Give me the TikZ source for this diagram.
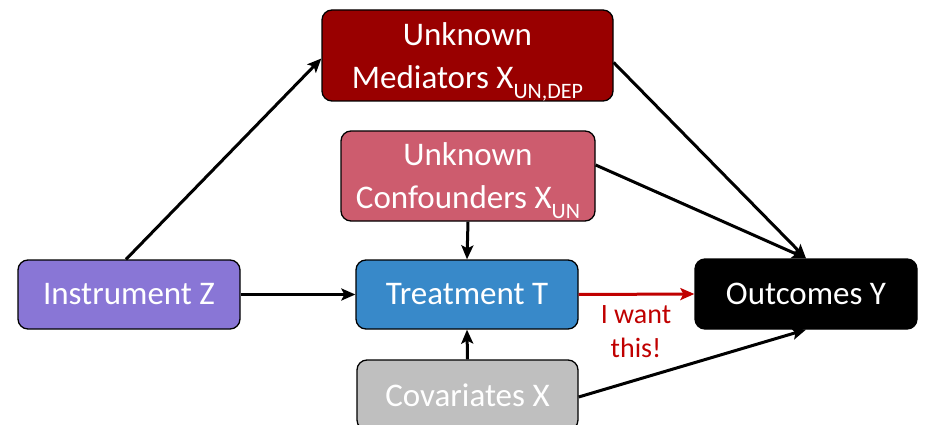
\documentclass[tikz,border=0pt]{standalone}
\usepackage{fontspec}
\setmainfont{Carlito}
\usetikzlibrary{arrows.meta}
\definecolor{medc}{RGB}{153,0,0}
\definecolor{confc}{RGB}{205,92,110}
\definecolor{instc}{RGB}{137,118,214}
\definecolor{treatc}{RGB}{56,137,201}
\definecolor{covc}{RGB}{191,191,191}
\definecolor{wantc}{RGB}{192,0,0}
\newcommand{\subtxt}[1]{\raisebox{-0.3em}[0pt][0pt]{\fontsize{22}{22}\selectfont #1}}
\tikzset{
  box/.style={draw=black, line width=1.3pt, rounded corners=10pt, text=white,
    align=center, font=\fontsize{33}{43}\selectfont, inner sep=0pt},
  conn/.style={line width=3pt, -{Stealth[length=14pt,width=12pt,inset=3pt]}},
}
\begin{document}
\begin{tikzpicture}[x=1pt,y=1pt]
\useasboundingbox (0,0) rectangle (926,-425);
\node[box, fill=medc, minimum width=291pt, minimum height=91pt] (med) at (467.5,-55.5) {Unknown\\Mediators X\subtxt{UN,DEP}};
\node[box, fill=confc, minimum width=254pt, minimum height=90pt] (conf) at (468,-176) {Unknown\\Confounders X\subtxt{UN}};
\node[box, fill=instc, minimum width=222pt, minimum height=69pt] (inst) at (129,-294.5) {Instrument Z};
\node[box, fill=treatc, minimum width=222pt, minimum height=69pt] (treat) at (467,-294.5) {Treatment T};
\node[box, fill=black, minimum width=222pt, minimum height=70pt] (out) at (806,-294) {Outcomes Y};
\node[box, fill=covc, minimum width=221pt, minimum height=70pt] (cov) at (467.5,-395) {Covariates X};
\draw[conn] ([xshift=-3pt]inst.north) -- ([yshift=-3pt]med.west);
\draw[conn] ([yshift=-7pt]med.east) -- (out.north);
\draw[conn] ([yshift=11pt]conf.east) -- (out.north);
\draw[conn] (conf.south) -- (treat.north);
\draw[conn] (inst.east) -- (treat.west);
\draw[conn, draw=wantc, fill=wantc] (treat.east) -- (out.west);
\draw[conn] (cov.north) -- (treat.south);
\draw[conn] ([yshift=-2pt]cov.east) -- (out.south);
\node[text=wantc, align=center, font=\fontsize{28}{34}\selectfont, inner sep=0pt] (want) at (636,-332) {I want\\this!};
\end{tikzpicture}
\end{document}
